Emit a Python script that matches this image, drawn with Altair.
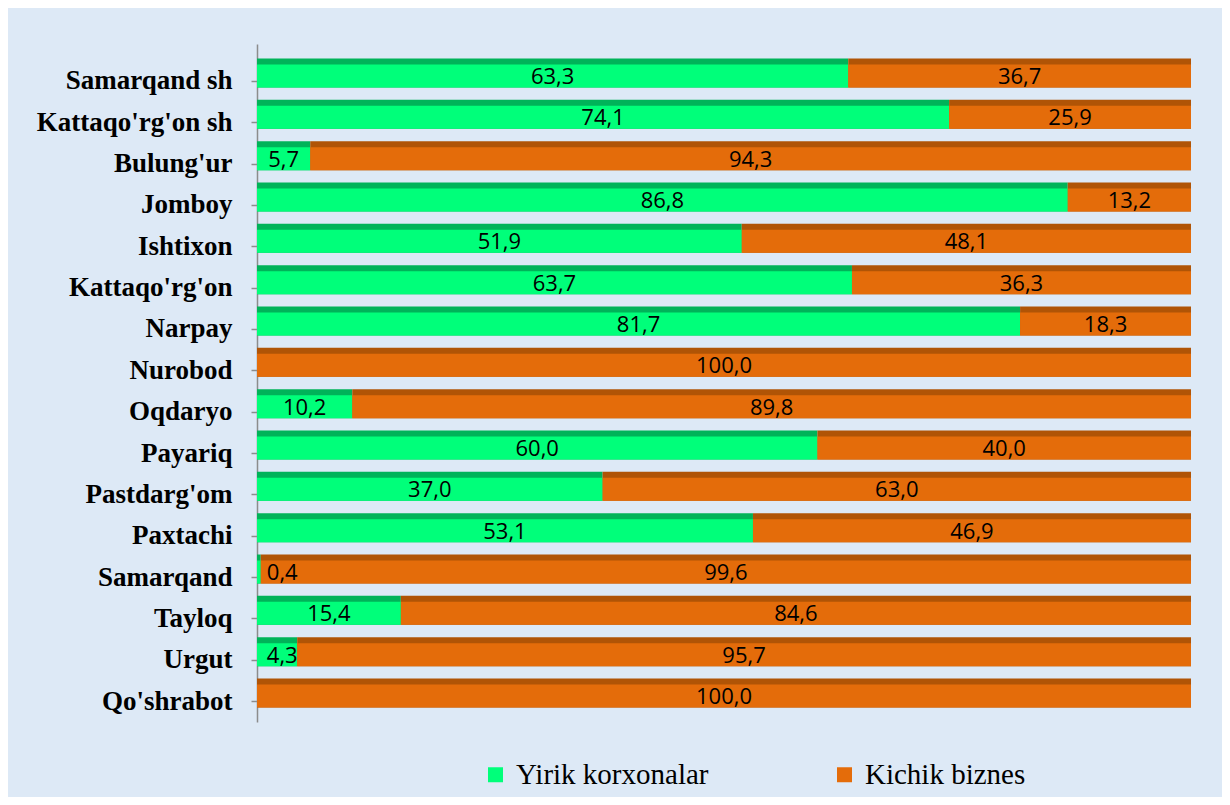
import altair as alt
import pandas as pd

categories = ["Samarqand sh", "Kattaqo'rg'on sh", "Bulung'ur", "Jomboy", "Ishtixon",
              "Kattaqo'rg'on\u00a0", "Narpay", "Nurobod", "Oqdaryo\u00a0", "Payariq",
              "Pastdarg'om", "Paxtachi", "Samarqand\u00a0", "Tayloq", "Urgut", "Qo'shrabot"]
series = ["Yirik korxonalar", "Kichik biznes"]
yirik = [63.3, 74.1, 5.7, 86.8, 51.9, 63.7, 81.7, 0.0, 10.2, 60.0, 37.0, 53.1, 0.4, 15.4, 4.3, 0.0]
kichik = [36.7, 25.9, 94.3, 13.2, 48.1, 36.3, 18.3, 100.0, 89.8, 40.0, 63.0, 46.9, 99.6, 84.6, 95.7, 100.0]

rows = []
for i, c in enumerate(categories):
    rows.append({"cat": c, "series": series[0], "ord": 0, "value": yirik[i]})
    rows.append({"cat": c, "series": series[1], "ord": 1, "value": kichik[i]})
df = pd.DataFrame(rows)

bright = ["#00ff7a", "#e46c0a"]
dark = ["#00b359", "#b05406"]

base = alt.Chart(df).transform_stack(
    stack="value", groupby=["cat"], as_=["x0", "x1"],
    sort=[alt.SortField("ord", order="ascending")]
)

yenc = alt.Y("cat:N", sort=categories, title=None,
             scale=alt.Scale(paddingInner=0.298, paddingOuter=0.35),
             axis=alt.Axis(labelFont="Liberation Serif", labelFontWeight="bold",
                           labelFontSize=27, labelColor="black", labelPadding=19,
                           tickSize=6, tickColor="#8c8c8c", tickWidth=1.5,
                           domainColor="#8c8c8c", domainWidth=1.5, tickOffset=8,
                           labelLimit=400))
xenc = alt.X("x0:Q", scale=alt.Scale(domain=[0, 100]), axis=None)

dark_bars = base.mark_bar(height=29).encode(
    y=yenc, x=xenc, x2="x1:Q",
    color=alt.Color("series:N", scale=alt.Scale(domain=series, range=dark), legend=None),
)

bright_bars = base.mark_bar(height=23, yOffset=3).encode(
    y=yenc, x=xenc, x2="x1:Q",
    color=alt.Color("series:N", scale=alt.Scale(domain=series, range=bright),
                    sort=series,
                    legend=alt.Legend(title=None, orient="none", direction="horizontal",
                                      legendX=224, legendY=716, symbolType="square",
                                      symbolSize=225, symbolStrokeWidth=0,
                                      labelFont="Liberation Serif", labelFontSize=29,
                                      labelColor="black", labelOffset=6,
                                      columnPadding=121, labelLimit=400, padding=0)),
)

texts = base.transform_filter("datum.value > 0").transform_calculate(
    mid="max((datum.x0 + datum.x1) / 2, 2.7)",
    lbl="replace(format(datum.value, '.1f'), '.', ',')"
).mark_text(font="Open Sans", fontSize=22, color="black", baseline="middle", dy=4).encode(
    y=alt.Y("cat:N", sort=categories),
    x=alt.X("mid:Q"),
    text="lbl:N",
)

chart = alt.layer(dark_bars, bright_bars, texts).resolve_scale(color="independent").properties(
    width=934, height=678,
    background="#dde9f6",
    autosize=alt.AutoSizeParams(type="none"),
    padding={"left": 249, "top": 36, "right": 31, "bottom": 75},
).configure(font="Liberation Serif").configure_view(stroke=None, fill="#dde9f6").configure_legend(
    labelFont="Liberation Serif", labelFontSize=29, labelColor="black"
)

chart.save("out.html", embed_options={"renderer": "svg", "actions": False})
